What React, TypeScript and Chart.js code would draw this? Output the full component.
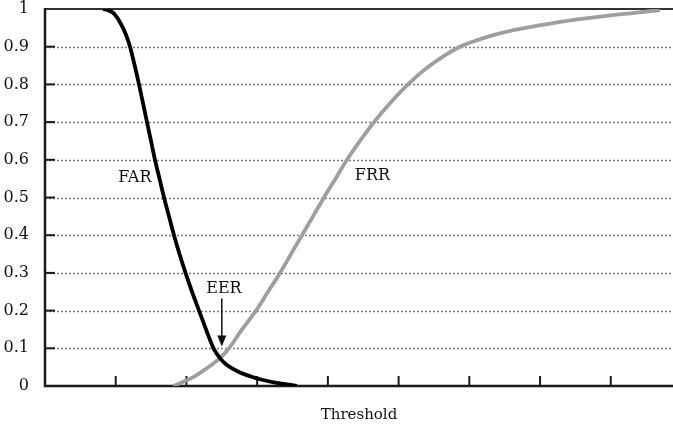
import React, { useEffect, useRef } from "react";
import { Chart, registerables } from "chart.js";

Chart.register(...registerables);

// FAR curve (threshold, rate)
const farX = [0.82, 0.891, 0.962, 1.018, 1.075, 1.138, 1.202, 1.266, 1.329, 1.386, 1.442, 1.499, 1.555, 1.619, 1.683, 1.753, 1.824, 1.902, 1.987, 2.079, 2.178, 2.277, 2.383, 2.475, 2.545, 2.616, 2.757, 2.899, 3.04, 3.252, 3.422, 3.563];
const farY = [1.0, 0.997, 0.99, 0.978, 0.96, 0.935, 0.9, 0.852, 0.8, 0.75, 0.7, 0.65, 0.6, 0.55, 0.5, 0.45, 0.4, 0.35, 0.3, 0.25, 0.2, 0.15, 0.1, 0.074, 0.06, 0.05, 0.036, 0.026, 0.018, 0.009, 0.004, 0.0];

// FRR curve (threshold, rate)
const frrX = [1.81, 1.98, 2.121, 2.234, 2.361, 2.475, 2.602, 2.786, 2.984, 3.153, 3.323, 3.479, 3.634, 3.79, 3.945, 4.108, 4.27, 4.454, 4.652, 4.878, 5.133, 5.444, 5.868, 6.123, 6.363, 6.603, 6.858, 7.282, 7.848, 8.343, 8.696];
const frrY = [0.0, 0.013, 0.026, 0.04, 0.057, 0.074, 0.1, 0.15, 0.2, 0.25, 0.3, 0.35, 0.4, 0.45, 0.5, 0.55, 0.6, 0.65, 0.7, 0.75, 0.8, 0.85, 0.9, 0.918, 0.932, 0.943, 0.952, 0.966, 0.98, 0.99, 0.997];

const xTickValues = [1, 2, 3, 4, 5, 6, 7, 8];
const yTickValues = [0, 0.1, 0.2, 0.3, 0.4, 0.5, 0.6, 0.7, 0.8, 0.9, 1];

const labels = [
  { text: "FAR", x: 1.27, y: 0.552 },
  { text: "FRR", x: 4.63, y: 0.557 },
  { text: "EER", x: 2.53, y: 0.257 },
];
const eerArrow = { x: 2.5, yFrom: 0.232, yTo: 0.105 };

const FONT = "'DejaVu Serif', serif";

const decorPlugin = {
  id: "decor",
  beforeDatasetsDraw(chart: any) {
    const { ctx, chartArea } = chart;
    const xs = chart.scales.x;
    const ys = chart.scales.y;
    ctx.save();
    ctx.strokeStyle = "#7a7a7a";
    ctx.lineWidth = 1.5;
    ctx.setLineDash([2, 2]);
    yTickValues.forEach((v) => {
      if (v === 0 || v === 1) return;
      const py = Math.round(ys.getPixelForValue(v)) + 0.5;
      ctx.beginPath();
      ctx.moveTo(chartArea.left, py);
      ctx.lineTo(chartArea.right, py);
      ctx.stroke();
    });
    ctx.setLineDash([]);
    ctx.strokeStyle = "#333";
    ctx.lineWidth = 2;
    const pTop = ys.getPixelForValue(1);
    ctx.beginPath();
    ctx.moveTo(chartArea.left, pTop);
    ctx.lineTo(chartArea.right, pTop);
    ctx.stroke();
    ctx.strokeStyle = "#1a1a1a";
    ctx.lineWidth = 2.5;
    const p0 = ys.getPixelForValue(0);
    const pl = xs.getPixelForValue(0);
    ctx.beginPath();
    ctx.moveTo(pl, pTop - 1);
    ctx.lineTo(pl, p0);
    ctx.lineTo(chartArea.right, p0);
    ctx.stroke();
    ctx.lineWidth = 2;
    yTickValues.forEach((v) => {
      if (v === 0 || v === 1) return;
      const py = ys.getPixelForValue(v);
      ctx.beginPath();
      ctx.moveTo(pl, py);
      ctx.lineTo(pl + 10, py);
      ctx.stroke();
    });
    xTickValues.forEach((v) => {
      const px = xs.getPixelForValue(v);
      ctx.beginPath();
      ctx.moveTo(px, p0);
      ctx.lineTo(px, p0 - 10);
      ctx.stroke();
    });
    ctx.restore();
  },
  afterDatasetsDraw(chart: any) {
    const { ctx } = chart;
    const xs = chart.scales.x;
    const ys = chart.scales.y;
    ctx.save();
    ctx.fillStyle = "#111";
    ctx.font = `16px ${FONT}`;
    ctx.textAlign = "center";
    ctx.textBaseline = "middle";
    labels.forEach((l) => {
      ctx.fillText(l.text, xs.getPixelForValue(l.x), ys.getPixelForValue(l.y));
    });
    const ax = xs.getPixelForValue(eerArrow.x);
    const ay1 = ys.getPixelForValue(eerArrow.yFrom);
    const ay2 = ys.getPixelForValue(eerArrow.yTo);
    ctx.strokeStyle = "#111";
    ctx.lineWidth = 1.5;
    ctx.beginPath();
    ctx.moveTo(ax, ay1);
    ctx.lineTo(ax, ay2 - 8);
    ctx.stroke();
    ctx.fillStyle = "#111";
    ctx.beginPath();
    ctx.moveTo(ax, ay2);
    ctx.lineTo(ax - 4.5, ay2 - 11);
    ctx.lineTo(ax + 4.5, ay2 - 11);
    ctx.closePath();
    ctx.fill();
    ctx.restore();
  },
};

export default function App() {
  const canvasRef = useRef<HTMLCanvasElement | null>(null);

  useEffect(() => {
    if (!canvasRef.current) return;
    const chart = new Chart(canvasRef.current, {
      type: "line",
      data: {
        datasets: [
          {
            label: "FAR",
            data: farX.map((x, i) => ({ x, y: farY[i] })),
            borderColor: "#000",
            borderWidth: 3.8,
            pointRadius: 0,
            cubicInterpolationMode: "monotone",
            fill: false,
          },
          {
            label: "FRR",
            data: frrX.map((x, i) => ({ x, y: frrY[i] })),
            borderColor: "#9e9e9e",
            borderWidth: 3.8,
            pointRadius: 0,
            cubicInterpolationMode: "monotone",
            fill: false,
          },
        ],
      },
      options: {
        animation: false,
        responsive: true,
        maintainAspectRatio: false,
        layout: { padding: { top: 9, right: 0, bottom: 0, left: 0 } },
        plugins: { legend: { display: false }, tooltip: { enabled: false } },
        scales: {
          x: {
            type: "linear",
            min: 0,
            max: 8.88,
            grid: { display: false },
            border: { display: false },
            ticks: { display: false },
            title: {
              display: true,
              text: "Threshold",
              color: "#111",
              font: { family: FONT, size: 15 },
              padding: { top: 0, bottom: 9 },
            },
            afterFit(scale: any) {
              scale.height = 47;
              scale.paddingLeft = 0;
              scale.paddingRight = 0;
            },
          },
          y: {
            type: "linear",
            min: 0,
            max: 1,
            grid: { display: false },
            border: { display: false },
            afterBuildTicks(scale: any) {
              scale.ticks = yTickValues.map((v) => ({ value: v }));
            },
            ticks: {
              color: "#111",
              padding: 8,
              font: { family: FONT, size: 16 },
              callback: (v: any) => String(Math.round(Number(v) * 10) / 10),
            },
            afterFit(scale: any) {
              scale.width = 45;
              scale.paddingTop = 0;
              scale.paddingBottom = 0;
            },
          },
        },
      },
      plugins: [decorPlugin],
    } as any);
    return () => chart.destroy();
  }, []);

  return (
    <div style={{ position: "fixed", left: 0, top: 0, width: 673, height: 433, background: "#fff" }}>
      <canvas ref={canvasRef} />
    </div>
  );
}
